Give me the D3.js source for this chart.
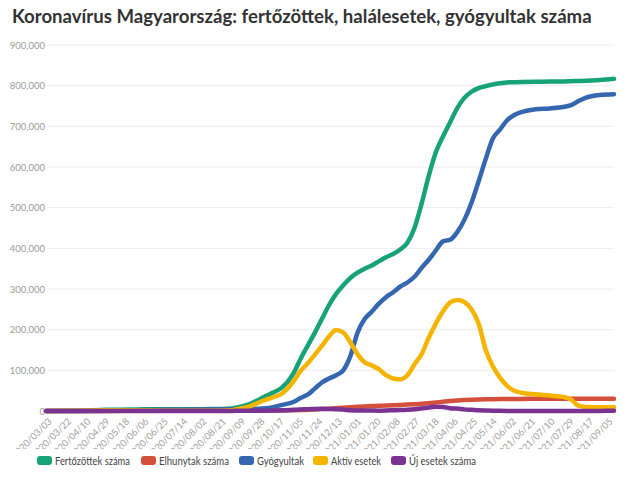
<!DOCTYPE html>
<html><head><meta charset="utf-8">
<script src="https://cdn.jsdelivr.net/npm/d3@7"></script>
<style>
html,body{margin:0;padding:0;background:#fff;}
svg{display:block;font-family:Lato,"Noto Sans",sans-serif;}
</style></head>
<body><svg id="chart" width="630" height="478"></svg>
<script>
const title = "Koronavírus Magyarország: fertőzöttek, halálesetek, gyógyultak száma";
const seriesNames = ["Fertőzöttek száma","Elhunytak száma","Gyógyultak","Aktív esetek","Új esetek száma"];
const colors = ["#17a377","#d4503c","#3566b0","#f4b400","#7b3393"];
const dates = ["2020-03-03","2020-04-01","2020-05-01","2020-06-01","2020-07-01","2020-08-01","2020-08-22","2020-09-01","2020-09-11","2020-09-21","2020-10-01","2020-10-11","2020-10-21","2020-11-01","2020-11-08","2020-11-15","2020-11-22","2020-11-29","2020-12-06","2020-12-13","2020-12-20","2020-12-27","2021-01-03","2021-01-10","2021-01-17","2021-01-24","2021-01-31","2021-02-07","2021-02-14","2021-02-21","2021-02-28","2021-03-07","2021-03-14","2021-03-21","2021-03-28","2021-04-04","2021-04-11","2021-04-18","2021-04-25","2021-05-02","2021-05-09","2021-05-16","2021-05-23","2021-05-30","2021-06-06","2021-06-13","2021-06-27","2021-07-11","2021-07-25","2021-08-01","2021-08-08","2021-08-15","2021-08-29","2021-09-12"];
const infected = [0,500,3000,3900,4200,4500,5000,6000,11000,19000,32000,44000,58000,92000,128000,160000,192000,226000,260000,288000,309000,327000,340000,350000,358000,368000,378000,386000,397000,414000,450000,510000,578000,636000,675000,710000,745000,770000,785000,794000,799000,803000,806000,808000,808500,809000,809500,810000,810500,811000,811500,812000,814000,817000];
const deaths = [0,10,300,520,590,600,610,620,640,700,800,1000,1300,1800,2200,2900,3700,4700,5800,7000,8200,9300,10300,11200,12000,12800,13500,14200,14900,15700,16600,17600,19100,20800,22700,24500,25900,26900,27700,28300,28800,29100,29400,29600,29700,29800,29900,30000,30000,30000,30100,30100,30100,30200];
const recovered = [0,100,500,2000,3000,3500,3800,4000,4500,5000,6000,9000,15000,22000,32000,40000,55000,70000,80000,88000,100000,135000,192000,226000,244000,264000,280000,292000,306000,316000,330000,352000,372000,395000,417000,421000,440000,470000,512000,565000,620000,670000,692000,715000,728000,735000,742000,744000,748000,752000,762000,770000,777000,779000];
const active = [0,400,2000,1400,500,500,900,1800,6000,13000,24000,33000,43000,72000,98000,117000,138000,160000,183000,199000,193000,169000,140000,120000,112000,103000,88000,80000,78000,88000,115000,140000,180000,215000,245000,267000,273000,268000,250000,215000,150000,110000,82000,62000,50000,45000,41000,38000,34000,28000,13000,10000,9000,9000];
const newCases = [2,50,40,20,10,20,50,200,700,900,900,1200,1900,2800,3900,4100,5200,5500,4800,4600,3400,1700,1200,1400,1100,900,1200,1900,2300,3000,4200,6200,8500,10300,9800,6800,5900,4000,2900,1600,1100,700,400,200,150,100,70,60,70,90,120,170,300,400];
const yTicks = [0,100000,200000,300000,400000,500000,600000,700000,800000,900000];
const xTickLabels = ["2020/03/03","2020/03/22","2020/04/10","2020/04/29","2020/05/18","2020/06/06","2020/06/25","2020/07/14","2020/08/02","2020/08/21","2020/09/09","2020/09/28","2020/10/17","2020/11/05","2020/11/24","2020/12/13","2021/01/01","2021/01/20","2021/02/08","2021/02/27","2021/03/18","2021/04/06","2021/04/25","2021/05/14","2021/06/02","2021/06/21","2021/07/10","2021/07/29","2021/08/17","2021/09/05"];

const svg = d3.select("#chart");
const parse = d3.timeParse("%Y-%m-%d");
const parseTick = d3.timeParse("%Y/%m/%d");
const x = d3.scaleTime().domain([parse("2020-03-03"), parse("2021-09-12")]).range([46, 614]);
const y = d3.scaleLinear().domain([0, 900000]).range([411, 45]);

svg.append("text").attr("x", 12).attr("y", 23).attr("font-size", 18.6).attr("font-weight", 700)
  .attr("fill", "#333").text(title);

// grid
const grid = svg.append("g");
grid.selectAll("line").data(yTicks).join("line")
  .attr("x1", 48).attr("x2", 614).attr("y1", d => y(d)).attr("y2", d => y(d))
  .attr("stroke", "#ececec").attr("stroke-width", 1);
const yAxis = d3.axisLeft(y).tickValues(yTicks).tickFormat(d3.format(",")).tickSize(0).tickPadding(0);
const ya = svg.append("g").attr("transform", "translate(45,0)").call(yAxis);
ya.select(".domain").remove();
ya.selectAll("text").attr("font-size", 9.5).attr("fill", "#9a9a9a").attr("font-family", "Lato");

// x axis labels
svg.append("clipPath").attr("id", "xclip").append("rect").attr("x", 0).attr("y", 405).attr("width", 630).attr("height", 44);
const xAxis = d3.axisBottom(x).tickValues(xTickLabels.map(parseTick)).tickFormat(d3.timeFormat("%Y/%m/%d")).tickSize(0);
const xa = svg.append("g").attr("clip-path", "url(#xclip)").append("g").attr("transform", "translate(0,411)").call(xAxis);
xa.select(".domain").remove();
xa.selectAll("text").attr("font-size", 9.5).attr("fill", "#a0a0a0").attr("font-family", "Lato")
  .attr("text-anchor", "end").attr("dy", 0).attr("y", 0)
  .attr("transform", "translate(6,11) rotate(-45)");

// lines
const allSeries = [infected, deaths, recovered, active, newCases];
const line = d3.line().x(d => x(d[0])).y(d => y(d[1])).curve(d3.curveMonotoneX);
allSeries.forEach((vals, i) => {
  const pts = dates.map((d, j) => [parse(d), vals[j]]);
  svg.append("path").attr("d", line(pts)).attr("fill", "none")
    .attr("stroke", colors[i]).attr("stroke-width", 4.5)
    .attr("stroke-linejoin", "round").attr("stroke-linecap", "round");
});

// legend
const legendX = [37, 141, 239, 313, 391];
const legendW = [75, 70, 47, 50, 67];
const lg = svg.append("g");
seriesNames.forEach((n, i) => {
  lg.append("rect").attr("x", legendX[i]).attr("y", 456).attr("width", 15).attr("height", 9)
    .attr("rx", 3).attr("fill", colors[i]);
  lg.append("text").attr("x", legendX[i] + 18).attr("y", 465).attr("font-size", 12)
    .attr("textLength", legendW[i]).attr("lengthAdjust", "spacingAndGlyphs")
    .attr("fill", "#444").text(n);
});
</script></body></html>
